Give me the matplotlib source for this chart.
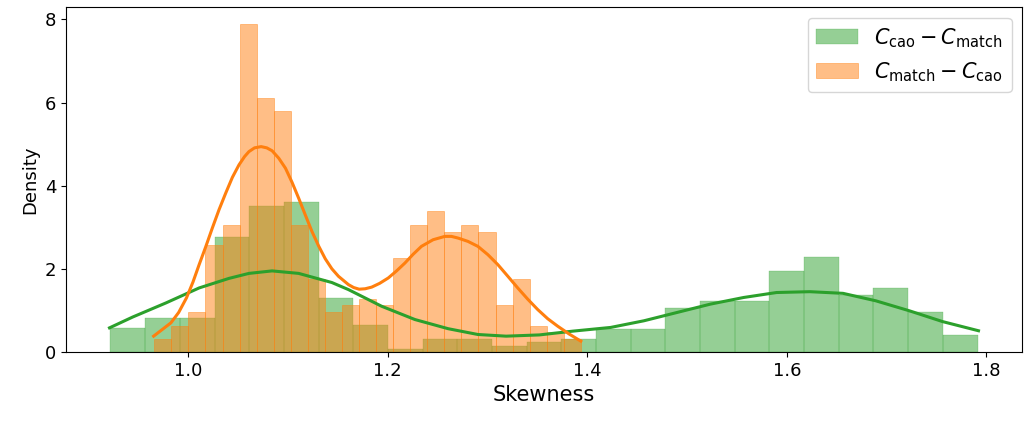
import matplotlib
matplotlib.use("Agg")
import matplotlib.pyplot as plt
import numpy as np

# histogram ranges (min/max of each sample) and bar heights (density), 25 bins each
green_range = (0.9224, 1.791)
green_heights = [0.57, 0.82, 0.82, 2.77, 3.51, 3.61, 1.30, 0.65, 0.08, 0.32,
                 0.32, 0.15, 0.25, 0.31, 0.56, 0.56, 1.06, 1.23, 1.23, 1.95,
                 2.29, 1.37, 1.54, 0.97, 0.41]
orange_range = (0.9663, 1.3936)
orange_heights = [0.32, 0.63, 0.96, 2.57, 3.05, 7.90, 6.12, 5.79, 3.05, 1.75,
                  0.96, 1.13, 1.28, 1.13, 2.26, 3.05, 3.39, 2.89, 3.05, 2.89,
                  1.13, 1.76, 0.63, 0.49, 0.32]

# kde curves
green_kde_x = [0.9214, 0.9446, 0.9780, 1.0112, 1.0411, 1.0611, 1.0843, 1.1109,
               1.1442, 1.1608, 1.1940, 1.2274, 1.2606, 1.2905, 1.3187, 1.3521,
               1.3853, 1.4235, 1.4568, 1.4900, 1.5233, 1.5566, 1.5897, 1.6230,
               1.6563, 1.6892, 1.7228, 1.7561, 1.7920]
green_kde_y = [0.58, 0.84, 1.18, 1.54, 1.77, 1.89, 1.95, 1.89, 1.67, 1.50,
               1.10, 0.78, 0.56, 0.42, 0.38, 0.41, 0.50, 0.59, 0.75, 0.95,
               1.15, 1.31, 1.43, 1.45, 1.41, 1.23, 0.99, 0.73, 0.51]
orange_kde_x = [0.9656, 0.9829, 0.9907, 0.9985, 1.0050, 1.0112, 1.0178, 1.0244,
                1.0311, 1.0378, 1.0445, 1.0511, 1.0567, 1.0611, 1.0667, 1.0733,
                1.0790, 1.0843, 1.0910, 1.0977, 1.1043, 1.1109, 1.1175, 1.1242,
                1.1309, 1.1376, 1.1442, 1.1508, 1.1608, 1.1660, 1.1715, 1.1775,
                1.1841, 1.1920, 1.2007, 1.2090, 1.2174, 1.2256, 1.2339, 1.2456,
                1.2573, 1.2640, 1.2706, 1.2805, 1.2905, 1.3005, 1.3105, 1.3205,
                1.3304, 1.3404, 1.3504, 1.3604, 1.3704, 1.3820, 1.3936]
orange_kde_y = [0.38, 0.70, 0.95, 1.30, 1.68, 2.10, 2.53, 2.98, 3.42, 3.82,
                4.20, 4.50, 4.70, 4.82, 4.91, 4.94, 4.91, 4.84, 4.66, 4.42,
                4.08, 3.70, 3.30, 2.90, 2.55, 2.24, 2.00, 1.82, 1.62, 1.55,
                1.51, 1.52, 1.56, 1.65, 1.78, 1.95, 2.14, 2.35, 2.54, 2.70,
                2.78, 2.78, 2.74, 2.66, 2.54, 2.34, 2.10, 1.82, 1.54, 1.27,
                1.02, 0.80, 0.62, 0.43, 0.26]

labels = [r"$C_{\rm cao} - C_{\rm match}$", r"$C_{\rm match} - C_{\rm cao}$"]
c_green = "#2ca02c"
c_orange = "#ff7f0e"

fig = plt.figure(figsize=(10.24, 4.21), dpi=100)
ax = fig.add_axes([0.0645, 0.164, 0.9335, 0.819])


def hist(rng, h, color, label, lw):
    edges = np.linspace(rng[0], rng[1], len(h) + 1)
    ax.bar(edges[:-1], h, width=np.diff(edges), align="edge", color=color,
           edgecolor=color, linewidth=lw, alpha=0.5, label=label)


hist(green_range, green_heights, c_green, labels[0], 0.3)
ax.plot(green_kde_x, green_kde_y, color=c_green, lw=2.2)
hist(orange_range, orange_heights, c_orange, labels[1], 0.6)
ax.plot(orange_kde_x, orange_kde_y, color=c_orange, lw=2.2)

ax.set_xlabel("Skewness", fontsize=15)
ax.set_ylabel("Density", fontsize=13)
ax.tick_params(labelsize=13)
ax.set_yticks([0, 2, 4, 6, 8])
ax.legend(loc="upper right", fontsize=15)

fig.savefig("out.png", dpi=100)
